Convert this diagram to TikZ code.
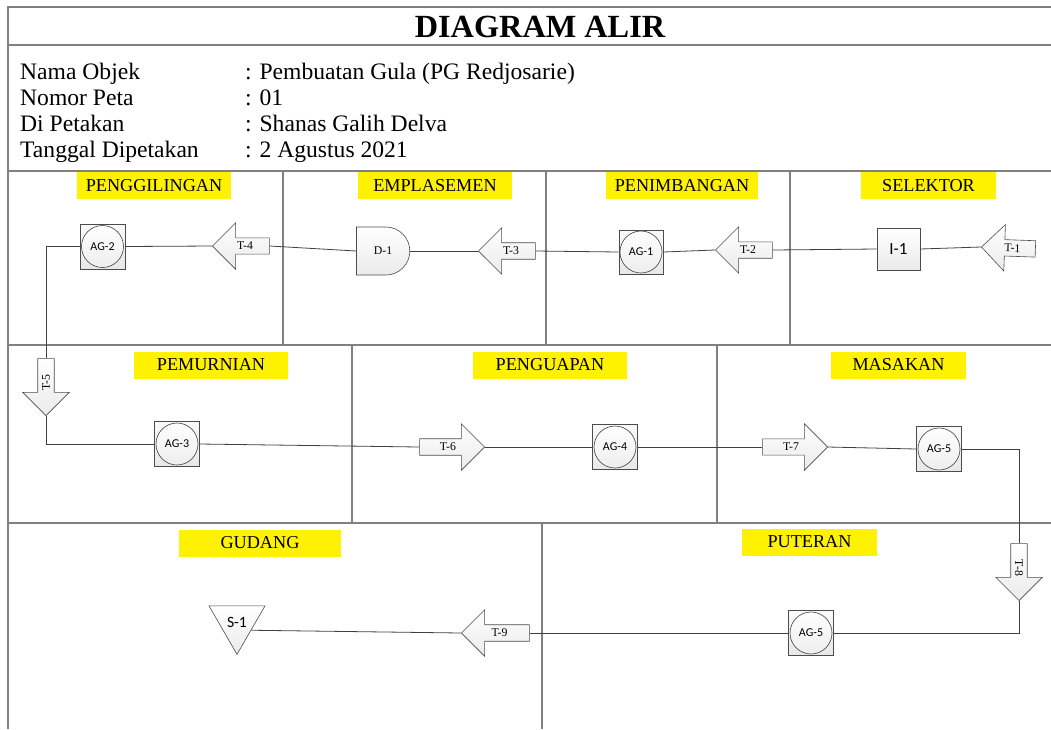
\documentclass[tikz,border=0pt]{standalone}
\usepackage{fontspec}
\setmainfont{Liberation Serif}
\newfontfamily\calib{Carlito}
\usetikzlibrary{shapes.arrows,shapes.geometric,shapes.misc}

\newcommand{\fsz}[1]{\fontsize{#1}{#1}\selectfont}

\tikzset{
  frame/.style={draw=black!50, line width=1.4pt},
  flow/.style={draw=black!75, line width=0.8pt},
  lanelbl/.style={fill=yellow, minimum height=27pt, inner sep=0pt, font=\fsz{18.2}},
  tarrow/.style={single arrow, draw=black!70, line width=0.6pt, top color=white, bottom color=gray!16,
    single arrow head extend=15pt, inner xsep=1pt, inner ysep=4pt, minimum height=57pt, font=\fsz{11.8}},
  opbox/.style={rectangle, draw=black!70, line width=0.6pt, top color=gray!4, bottom color=gray!18,
    minimum size=45pt, inner sep=0pt, font=\calib\fsz{12},
    path picture={\draw[black!75, line width=0.6pt, top color=white, bottom color=gray!14]
      (path picture bounding box.center) circle (21pt);}},
  delaybox/.style={rounded rectangle, rounded rectangle left arc=none, draw=black!70, line width=0.6pt,
    top color=white, bottom color=gray!16, minimum width=60pt, minimum height=48pt, font=\fsz{11.8}},
  inspbox/.style={rectangle, draw=black!70, line width=0.6pt, top color=white, bottom color=gray!16,
    minimum width=43pt, minimum height=42pt, font=\calib\fsz{17}},
  storetri/.style={regular polygon, regular polygon sides=3, shape border rotate=180, draw=black!70,
    line width=0.6pt, top color=white, bottom color=gray!16, minimum size=64.7pt, inner sep=0pt,
    font=\calib\fsz{15.7}},
}

\begin{document}
\begin{tikzpicture}[x=1pt, y=-1pt]
  \useasboundingbox (0,0) rectangle (1051,729);
  \draw[frame] (8,729) -- (8,7) -- (1051,7);
  \draw[frame] (8,45) -- (1051,45);
  \draw[frame] (8,171) -- (1051,171);
  \draw[frame] (8,345) -- (1051,345);
  \draw[frame] (8,523) -- (1051,523);
  \draw[frame] (283,171) -- (283,345);
  \draw[frame] (546,171) -- (546,345);
  \draw[frame] (790,171) -- (790,345);
  \draw[frame] (352,345) -- (352,523);
  \draw[frame] (717,345) -- (717,523);
  \draw[frame] (542,523) -- (542,729);

  \node[anchor=base, font=\bfseries\fsz{32.3}] (title) at (540,37) {DIAGRAM ALIR};
  \node[anchor=base west, inner sep=0pt, font=\fsz{23.6}] (k1) at (20,79) {Nama Objek};
  \node[anchor=base west, inner sep=0pt, font=\fsz{23.6}] (k2) at (20,105) {Nomor Peta};
  \node[anchor=base west, inner sep=0pt, font=\fsz{23.6}] (k3) at (20,131) {Di Petakan};
  \node[anchor=base west, inner sep=0pt, font=\fsz{23.6}] (k4) at (20,157) {Tanggal Dipetakan};
  \node[anchor=base west, inner sep=0pt, font=\fsz{23.6}] (v1) at (245,79) {: Pembuatan Gula (PG Redjosarie)};
  \node[anchor=base west, inner sep=0pt, font=\fsz{23.6}] (v2) at (245,105) {: 01};
  \node[anchor=base west, inner sep=0pt, font=\fsz{23.6}] (v3) at (245,131) {: Shanas Galih Delva};
  \node[anchor=base west, inner sep=0pt, font=\fsz{23.6}] (v4) at (245,157) {: 2 Agustus 2021};

  \node[lanelbl, minimum width=154pt] (lgiling) at (154,185.5) {PENGGILINGAN};
  \node[lanelbl, minimum width=154pt] (lemplas) at (435,185.5) {EMPLASEMEN};
  \node[lanelbl, minimum width=152pt] (ltimbang) at (682,185.5) {PENIMBANGAN};
  \node[lanelbl, minimum width=135pt] (lselek) at (928.5,185.5) {SELEKTOR};
  \node[lanelbl, minimum width=154pt] (lmurni) at (211,365) {PEMURNIAN};
  \node[lanelbl, minimum width=154pt] (luap) at (550,365) {PENGUAPAN};
  \node[lanelbl, minimum width=135pt] (lmasak) at (898.5,365) {MASAKAN};
  \node[lanelbl, minimum width=162pt] (lgudang) at (260,543) {GUDANG};
  \node[lanelbl, minimum width=135pt] (lputer) at (809.5,542) {PUTERAN};

  \node[opbox] (ag2) at (102.5,246.5) {AG-2};
  \node[tarrow, shape border rotate=180, anchor=tip] (t4) at (212,246) {T-4};
  \node[delaybox] (d1) at (383,251) {D-1};
  \node[tarrow, shape border rotate=180, anchor=tip] (t3) at (478,251) {T-3};
  \node[opbox, minimum size=44pt] (ag1) at (641,252) {AG-1};
  \node[tarrow, shape border rotate=180, anchor=tip] (t2) at (715,250) {T-2};
  \node[inspbox] (i1) at (898.5,249) {I-1};
  \node[tarrow, shape border rotate=180, rotate=-2, anchor=tip, minimum height=54pt] (t1) at (981,247) {T-1};

  \node[tarrow, shape border rotate=180, rotate=90, anchor=tip] (t5) at (46,416) {T-5};
  \node[opbox] (ag3) at (177,444) {AG-3};
  \node[tarrow, anchor=tip, minimum height=65pt] (t6) at (485,447) {T-6};
  \node[opbox] (ag4) at (615,447) {AG-4};
  \node[tarrow, anchor=tip, minimum height=65pt] (t7) at (828,447) {T-7};
  \node[opbox] (ag5a) at (939,449) {AG-5};

  \node[tarrow, rotate=-90, anchor=tip] (t8) at (1019,601) {T-8};
  \node[opbox] (ag5b) at (811,633) {AG-5};
  \node[tarrow, shape border rotate=180, anchor=tip, minimum height=68pt] (t9) at (461,633) {T-9};
  \node[storetri] (s1) at (237,622) {S-1};

  \draw[flow] (ag2.east) -- (t4.tip);
  \draw[flow] (t4.tail) -- (d1.west);
  \draw[flow] (d1.east) -- (t3.tip);
  \draw[flow] (t3.tail) -- (ag1.west);
  \draw[flow] (ag1.east) -- (t2.tip);
  \draw[flow] (t2.tail) -- (i1.west);
  \draw[flow] (i1.east) -- (t1.tip);
  \draw[flow] (ag2.west) -| (t5.tail);
  \draw[flow] (t5.tip) |- (ag3.west);
  \draw[flow] (ag3.east) -- (t6.tail);
  \draw[flow] (t6.tip) -- (ag4.west);
  \draw[flow] (ag4.east) -- (t7.tail);
  \draw[flow] (t7.tip) -- (ag5a.west);
  \draw[flow] (ag5a.east) -| (t8.tail);
  \draw[flow] (t8.tip) |- (ag5b.east);
  \draw[flow] (ag5b.west) -- (t9.tail);
  \draw[flow] (t9.tip) -- (s1.-30);
\end{tikzpicture}
\end{document}
